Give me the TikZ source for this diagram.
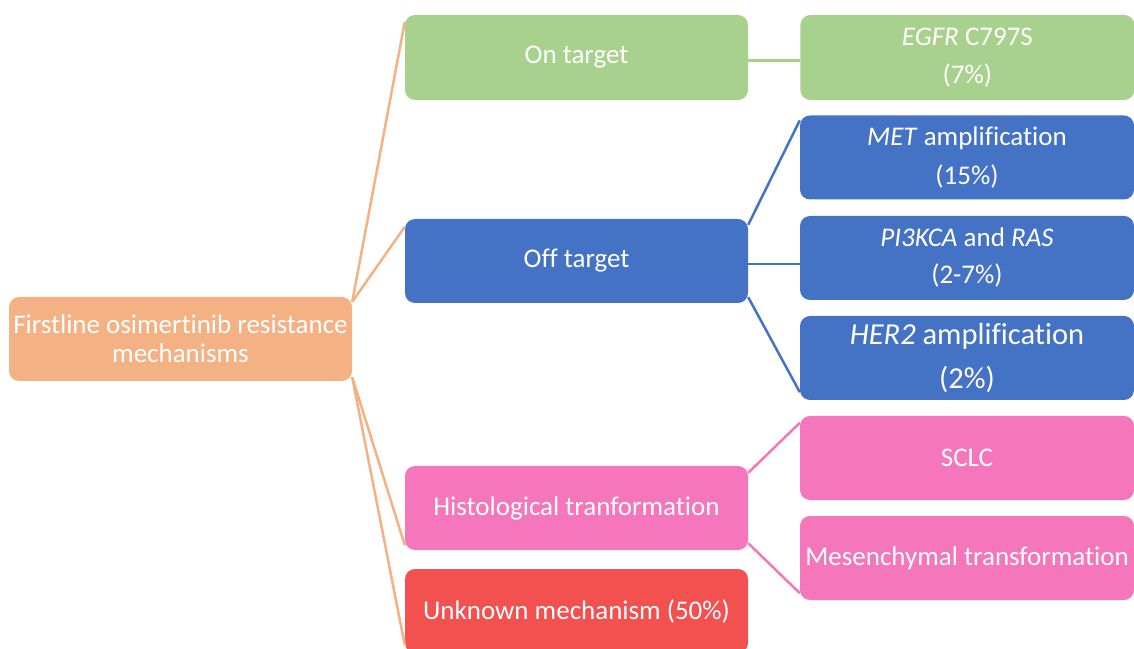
\documentclass[tikz,border=0pt]{standalone}
\usepackage{fontspec}
\setmainfont{Carlito}[Ligatures=NoCommon]
\usetikzlibrary{positioning}

\definecolor{rootorange}{HTML}{F4B183}
\definecolor{ongreen}{HTML}{A9D18E}
\definecolor{offblue}{HTML}{4472C4}
\definecolor{histpink}{HTML}{F576BA}
\definecolor{unkred}{HTML}{F35050}

\begin{document}
\begin{tikzpicture}[x=1pt, y=1pt,
  box/.style={rounded corners=10pt, text=white, align=center,
    minimum height=84pt, inner sep=0pt, font=\fontsize{27}{29}\selectfont},
  midbox/.style={box, minimum width=343pt},
  leafbox/.style={box, minimum width=334pt},
  link/.style={line width=2.5pt}]
\useasboundingbox (0,0) rectangle (1134,648);
\clip (0,0) rectangle (1134,648);

\node [midbox, fill=rootorange] (root) at (180.5,309)
  {Firstline osimertinib resistance\\mechanisms};

\node [midbox, fill=ongreen, minimum height=85pt] (ontarget) at (576.5,590.5) {On target};
\node [midbox, fill=offblue] (offtarget) at (576.5,387) {Off target};
\node [midbox, fill=histpink] (histo) at (576.5,140) {Histological tranformation};
\node [midbox, fill=unkred] (unknown) at (576.5,37) {Unknown mechanism (50\%)};

\node [leafbox, fill=ongreen, minimum height=85pt, right=52pt of ontarget] (egfr)
  {\textit{EGFR} C797S\\[9pt](7\%)};
\node [leafbox, fill=offblue] (met) at (967,490.5)
  {\textit{MET} amplification\\[10pt](15\%)};
\node [leafbox, fill=offblue] (pik) at (967,390)
  {\textit{PI3KCA} and \textit{RAS}\\[8pt](2-7\%)};
\node [leafbox, fill=offblue, font=\fontsize{30.5}{34}\selectfont] (her2) at (967,290)
  {\textit{HER2} amplification\\[10pt](2\%)};
\node [leafbox, fill=histpink] (sclc) at (967,190) {SCLC};
\node [leafbox, fill=histpink] (mesen) at (967,90) {Mesenchymal transformation};

\draw [link, rootorange] ([yshift=-5pt]root.north east) -- ([yshift=-7pt]ontarget.north west);
\draw [link, rootorange] ([yshift=-5pt]root.north east) -- ([yshift=-8pt]offtarget.north west);
\draw [link, rootorange] ([yshift=4pt]root.south east) -- ([yshift=5pt]histo.south west);
\draw [link, rootorange] ([yshift=4pt]root.south east) -- ([yshift=8pt]unknown.south west);

\draw [link, ongreen] ([yshift=-3pt]ontarget.east) -- ([yshift=-3pt]egfr.west);

\draw [link, offblue] ([yshift=-6pt]offtarget.north east) -- ([yshift=-5pt]met.north west);
\draw [link, offblue] ([yshift=-3pt]offtarget.east) -- ([yshift=-6pt]pik.west);
\draw [link, offblue] ([yshift=6pt]offtarget.south east) -- ([yshift=8pt]her2.south west);

\draw [link, histpink] ([yshift=-7pt]histo.north east) -- ([yshift=-7pt]sclc.north west);
\draw [link, histpink] ([yshift=7pt]histo.south east) -- ([yshift=7pt]mesen.south west);
\end{tikzpicture}
\end{document}
